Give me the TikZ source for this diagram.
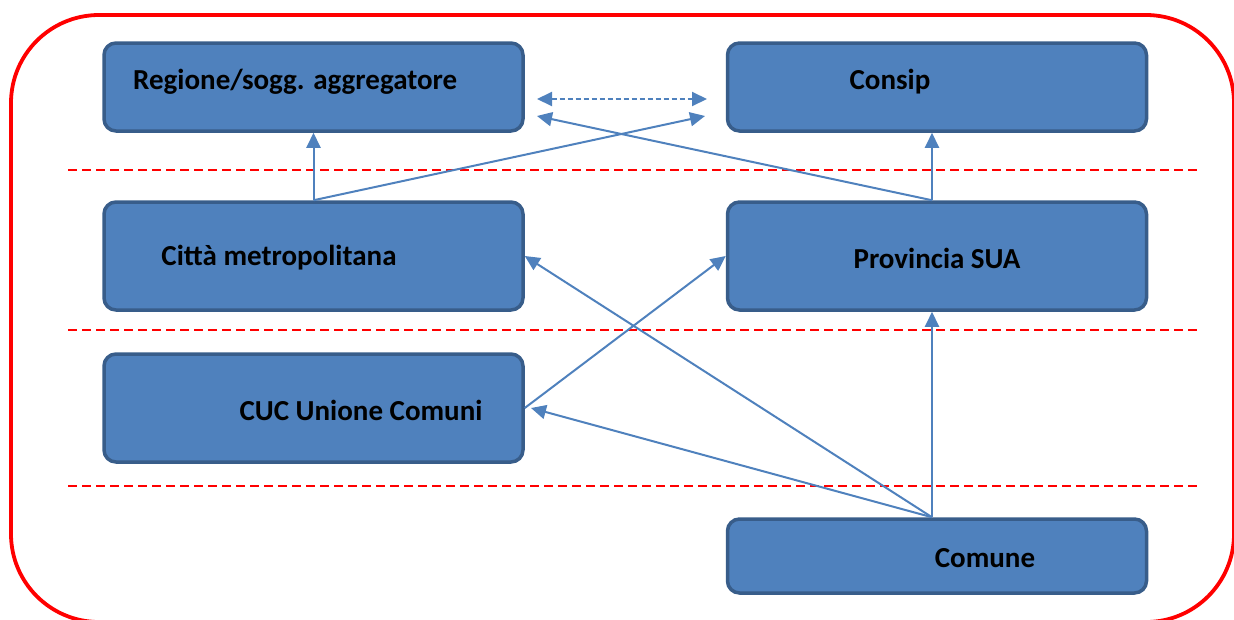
\documentclass[tikz,border=0pt]{standalone}
\usepackage{fontspec}
\setmainfont{Carlito}
\usetikzlibrary{arrows.meta}
\definecolor{boxfill}{HTML}{4F81BD}
\definecolor{boxline}{HTML}{385D8A}
\definecolor{frame}{HTML}{FF0000}
\tikzset{
    ente/.style={draw=boxline, line width=3.5pt, fill=boxfill, rounded corners=12pt,
        minimum width=419pt, minimum height=108pt, inner sep=0pt},
    etichetta/.style={font=\fontsize{29}{34}\selectfont\bfseries, inner sep=0pt},
    livello/.style={frame, line width=1.2pt, dash pattern=on 9pt off 5pt},
    freccia/.style={boxfill, line width=2pt, -{Triangle[length=15pt,width=14pt]}}
}
\begin{document}
\begin{tikzpicture}[x=1pt, y=-1pt]
\useasboundingbox (0,0) rectangle (1234,619);
\draw[frame, line width=3.8pt, rounded corners=88pt] (11,15) rectangle (1234,622);
% livelli
\foreach \y in {170, 330, 486}
    \draw[livello] (68,\y) -- (1198,\y);
% enti
\node[ente, minimum height=88pt] (regione) at (313.5,87) {};
\node[ente, minimum height=88pt] (consip) at (937,87) {};
\node[ente] (citta) at (313.5,256) {};
\node[ente] (provincia) at (937,256) {};
\node[ente] (cuc) at (313.5,408) {};
\node[ente, minimum height=74pt] (comune) at (937,556) {};
\node[etichetta, anchor=west] (regione-t) at (133,82) {Regione/sogg. aggregatore};
\node[etichetta] (consip-t) at (890,82) {Consip};
\node[etichetta] (citta-t) at (279,258) {Città metropolitana};
\node[etichetta] (provincia-t) at (937,258) {Provincia SUA};
\node[etichetta] (cuc-t) at (361,410) {CUC Unione Comuni};
\node[etichetta] (comune-t) at (985,558) {Comune};
% estremi liberi
\coordinate (dx) at (707,99);
\coordinate (sx) at (537,99);
\coordinate (consip-in) at (705,116);
\coordinate (regione-in) at (537,116);
\coordinate (cuc-in) at (531,408);
\coordinate (prov-su) at ([xshift=-5pt]provincia.north);
\coordinate (prov-giu) at ([xshift=-5pt]provincia.south);
\coordinate (comune-su) at ([xshift=-5pt]comune.north);
% collegamenti
\draw[freccia] (citta.north) -- (regione.south);
\draw[freccia] (citta.north) -- (consip-in);
\draw[freccia] (prov-su) -- (prov-su |- consip.south);
\draw[freccia] (prov-su) -- (regione-in);
\draw[freccia, {Triangle[length=15pt,width=14pt]}-{Triangle[length=15pt,width=14pt]}, dash pattern=on 5pt off 3pt] (sx) -- (dx);
\draw[freccia] (cuc.east) -- (provincia.west);
\draw[freccia] (comune-su) -- (citta.east);
\draw[freccia] (comune-su) -- (cuc-in);
\draw[freccia] (comune-su) -- (prov-giu);
\end{tikzpicture}
\end{document}
